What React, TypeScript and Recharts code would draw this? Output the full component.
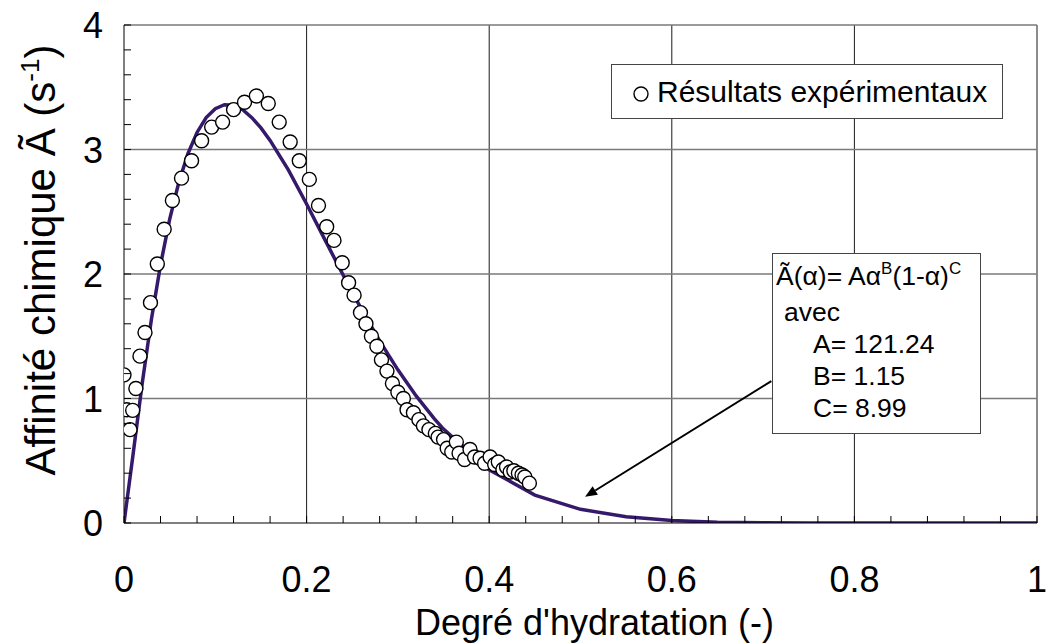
import React from 'react';
import { ComposedChart, Scatter, Line, XAxis, YAxis, ReferenceLine } from 'recharts';

// Fitted curve Ã(α)
const fitAlpha = [0, 0.01, 0.02, 0.03, 0.04, 0.05, 0.06, 0.07, 0.08, 0.09, 0.1, 0.11, 0.12, 0.13, 0.14, 0.15, 0.16, 0.18, 0.2, 0.22, 0.24, 0.26, 0.28, 0.3, 0.32, 0.34, 0.35, 0.4, 0.45, 0.5, 0.55, 0.6, 0.65, 0.7, 0.75, 0.8, 0.9, 1];
const fitAffinity = [0, 0.555, 1.124, 1.635, 2.073, 2.439, 2.735, 2.966, 3.137, 3.257, 3.328, 3.36, 3.355, 3.32, 3.256, 3.173, 3.073, 2.836, 2.562, 2.276, 1.992, 1.718, 1.463, 1.23, 1.021, 0.837, 0.754, 0.428, 0.224, 0.11, 0.05, 0.02, 0.006, 0.0016, 0.0003, 0.0001, 0, 0];

// Experimental results
const expAlpha = [0, 0.003, 0.0066, 0.0095, 0.013, 0.0175, 0.023, 0.029, 0.0365, 0.044, 0.053, 0.063, 0.074, 0.085, 0.096, 0.108, 0.12, 0.132, 0.145, 0.158, 0.17, 0.182, 0.192, 0.203, 0.213, 0.222, 0.23, 0.239, 0.246, 0.252, 0.259, 0.265, 0.271, 0.277, 0.282, 0.288, 0.294, 0.3, 0.306, 0.31, 0.317, 0.323, 0.328, 0.334, 0.341, 0.344, 0.35, 0.354, 0.359, 0.364, 0.367, 0.373, 0.379, 0.384, 0.39, 0.395, 0.401, 0.406, 0.41, 0.415, 0.419, 0.423, 0.427, 0.432, 0.436, 0.439, 0.444];
const expAffinity = [1.19, 0.91, 0.75, 0.905, 1.08, 1.34, 1.53, 1.77, 2.08, 2.36, 2.59, 2.77, 2.91, 3.07, 3.18, 3.22, 3.32, 3.38, 3.43, 3.37, 3.22, 3.06, 2.91, 2.76, 2.55, 2.38, 2.27, 2.09, 1.93, 1.83, 1.69, 1.6, 1.5, 1.42, 1.31, 1.22, 1.12, 1.05, 1.0, 0.91, 0.886, 0.83, 0.78, 0.75, 0.72, 0.69, 0.67, 0.6, 0.57, 0.65, 0.56, 0.51, 0.59, 0.53, 0.52, 0.48, 0.53, 0.47, 0.49, 0.43, 0.45, 0.41, 0.42, 0.4, 0.386, 0.37, 0.32];

const xMajorTicks = [0, 0.2, 0.4, 0.6, 0.8, 1];
const xAllTicks = [0, 0.04, 0.08, 0.12, 0.16, 0.2, 0.24, 0.28, 0.32, 0.36, 0.4, 0.44, 0.48, 0.52, 0.56, 0.6, 0.64, 0.68, 0.72, 0.76, 0.8, 0.84, 0.88, 0.92, 0.96, 1];
const yMajorTicks = [0, 1, 2, 3, 4];
const yAllTicks = [0, 0.2, 0.4, 0.6, 0.8, 1, 1.2, 1.4, 1.6, 1.8, 2, 2.2, 2.4, 2.6, 2.8, 3, 3.2, 3.4, 3.6, 3.8, 4];

const arrowFrom = [0.709, 1.14];
const arrowTo = [0.505, 0.21];

const legendLabel = 'Résultats expérimentaux';
const fitParamNames = ['A', 'B', 'C'];
const fitParamValues = ['121.24', '1.15', '8.99'];

const FONT = '"Liberation Sans", Arial, sans-serif';
const CURVE = '#35196b';

const fitData = fitAlpha.map((x, i) => ({ x, y: fitAffinity[i] }));
const expData = expAlpha.map((x, i) => ({ x, y: expAffinity[i] }));

const XTick = (props: any) => {
  const { x, y, payload } = props;
  const v = payload.value;
  const major = xMajorTicks.some((m) => Math.abs(m - v) < 1e-9);
  return (
    <g>
      <line x1={x} y1={y} x2={x} y2={y - 7} stroke="#000" strokeWidth={1} />
      {major && (
        <text x={x} y={y + 69} textAnchor="middle" fontSize={36} fill="#000" fontFamily={FONT}>
          {String(v)}
        </text>
      )}
    </g>
  );
};

const YTick = (props: any) => {
  const { x, y, payload } = props;
  const v = payload.value;
  const major = yMajorTicks.some((m) => Math.abs(m - v) < 1e-9);
  return (
    <g>
      <line x1={x} y1={y} x2={x + 7} y2={y} stroke="#000" strokeWidth={1} />
      {major && (
        <text x={x - 21} y={y + 13} textAnchor="end" fontSize={36} fill="#000" fontFamily={FONT}>
          {String(v)}
        </text>
      )}
    </g>
  );
};

const XTitle = (props: any) => {
  const vb = props.viewBox || { x: 124, y: 523, width: 913, height: 121 };
  return (
    <text x={vb.x + vb.width / 2 + 14} y={vb.y + 112} textAnchor="middle" fontSize={36} fill="#000" fontFamily={FONT}>
      Degré d'hydratation (-)
    </text>
  );
};

const YTitle = (props: any) => {
  const vb = props.viewBox || { x: 0, y: 25, width: 124, height: 498 };
  const cx = vb.x + 55;
  const cy = vb.y + vb.height / 2 - 14;
  return (
    <text transform={`translate(${cx},${cy}) rotate(-90)`} textAnchor="middle" fontSize={42} fill="#000" fontFamily={FONT}>
      Affinité chimique Ã (s<tspan dy={-16} fontSize={26}>-1</tspan><tspan dy={16}>)</tspan>
    </text>
  );
};

const Arrow = (p: any) => {
  const { x1, y1, x2, y2 } = p;
  if ([x1, y1, x2, y2].some((v) => typeof v !== 'number' || isNaN(v))) return null;
  const ang = Math.atan2(y2 - y1, x2 - x1);
  const L = 12;
  const W = 5;
  const bx = x2 - L * Math.cos(ang);
  const by = y2 - L * Math.sin(ang);
  const px = -Math.sin(ang) * W;
  const py = Math.cos(ang) * W;
  return (
    <g>
      <line x1={x1} y1={y1} x2={bx} y2={by} stroke="#000" strokeWidth={2} />
      <polygon points={`${x2},${y2} ${bx + px},${by + py} ${bx - px},${by - py}`} fill="#000" />
    </g>
  );
};

const Dot = (p: any) => {
  if (typeof p.cx !== 'number') return null;
  return <circle cx={p.cx} cy={p.cy} r={7} fill="#fff" stroke="#000" strokeWidth={1.4} />;
};

export default function App() {
  return (
    <div style={{ position: 'absolute', left: 0, top: 0, width: 1051, height: 644, background: '#fff', fontFamily: FONT }}>
      <ComposedChart width={1051} height={644} margin={{ top: 25, right: 14, left: 0, bottom: 0 }}>
        <XAxis
          type="number"
          dataKey="x"
          domain={[0, 1]}
          ticks={xAllTicks}
          interval={0}
          tickLine={false}
          tickSize={0}
          tickMargin={0}
          height={121}
          axisLine={{ stroke: '#000', strokeWidth: 1 }}
          tick={XTick}
          label={<XTitle />}
          allowDataOverflow
        />
        <YAxis
          type="number"
          dataKey="y"
          domain={[0, 4]}
          ticks={yAllTicks}
          interval={0}
          tickLine={false}
          tickSize={0}
          tickMargin={0}
          width={124}
          axisLine={{ stroke: '#000', strokeWidth: 1 }}
          tick={YTick}
          label={<YTitle />}
          allowDataOverflow
        />
        {xMajorTicks.slice(1).map((v) => (
          <ReferenceLine key={'gx' + v} x={v} stroke="#1a1a1a" strokeWidth={1} />
        ))}
        {yMajorTicks.slice(1).map((v) => (
          <ReferenceLine key={'gy' + v} y={v} stroke="#7a7a7a" strokeWidth={1.4} />
        ))}
        <Line
          data={fitData}
          dataKey="y"
          type="linear"
          stroke={CURVE}
          strokeWidth={3.5}
          dot={false}
          activeDot={false}
          isAnimationActive={false}
          legendType="none"
        />
        <Scatter data={expData} dataKey="y" shape={Dot} isAnimationActive={false} />
        <ReferenceLine
          segment={[
            { x: arrowFrom[0], y: arrowFrom[1] },
            { x: arrowTo[0], y: arrowTo[1] },
          ]}
          shape={Arrow}
          ifOverflow="visible"
        />
      </ComposedChart>

      {/* Legend box */}
      <div
        style={{
          position: 'absolute',
          left: 611,
          top: 64,
          width: 392,
          height: 55,
          border: '1.5px solid #444',
          background: '#fff',
          boxSizing: 'border-box',
          display: 'flex',
          alignItems: 'center',
        }}
      >
        <svg width={44} height={54} style={{ flex: 'none' }}>
          <circle cx={29} cy={29} r={7} fill="#fff" stroke="#000" strokeWidth={1.4} />
        </svg>
        <span style={{ fontSize: 30, color: '#000', marginLeft: 1, lineHeight: '54px', marginTop: 0 }}>{legendLabel}</span>
      </div>

      {/* Equation box */}
      <div
        style={{
          position: 'absolute',
          left: 772,
          top: 253,
          width: 209,
          height: 181,
          border: '1.5px solid #444',
          background: '#fff',
          boxSizing: 'border-box',
          fontSize: 26.5,
          color: '#000',
          lineHeight: '32px',
          paddingTop: 6,
          paddingLeft: 3,
          whiteSpace: 'nowrap',
        }}
      >
        <div>
          Ã(α)= Aα<span style={{ fontSize: 17, position: 'relative', top: -11 }}>B</span>(1-α)
          <span style={{ fontSize: 17, position: 'relative', top: -11 }}>C</span>
        </div>
        <div style={{ paddingLeft: 8 }}>avec</div>
        {fitParamNames.map((n, i) => (
          <div key={n} style={{ paddingLeft: 37 }}>
            {n}= {fitParamValues[i]}
          </div>
        ))}
      </div>
    </div>
  );
}
